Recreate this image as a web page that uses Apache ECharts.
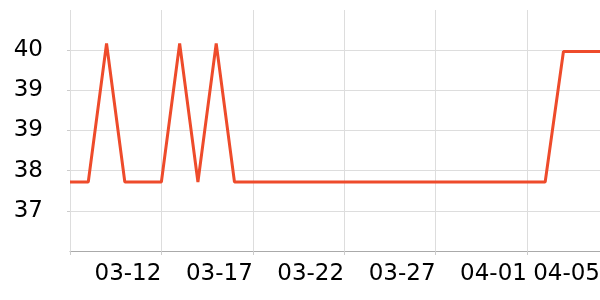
<!DOCTYPE html>
<html>
<head>
<meta charset="utf-8">
<script src="https://cdn.jsdelivr.net/npm/echarts@6/dist/echarts.min.js"></script>
<style>
html,body{margin:0;padding:0;background:#fff;}
#chart{width:600px;height:300px;}
</style>
</head>
<body>
<div id="chart"></div>
<script>
// Categories: daily dates
const categories = ['03-07','03-08','03-09','03-10','03-11','03-12','03-13','03-14','03-15','03-16',
  '03-17','03-18','03-19','03-20','03-21','03-22','03-23','03-24','03-25','03-26',
  '03-27','03-28','03-29','03-30','03-31','04-01','04-02','04-03','04-04','04-05'];
// Series values
const values = [37.83,37.83,39.9,37.83,37.83,37.83,39.9,37.83,39.9,37.83,
  37.83,37.83,37.83,37.83,37.83,37.83,37.83,37.83,37.83,37.83,
  37.83,37.83,37.83,37.83,37.83,37.83,37.83,39.78,39.78,39.78];
// Shown x labels
const shownLabels = ['03-12','03-17','03-22','03-27','04-01','04-05'];
const gridLabels = ['03-07','03-12','03-17','03-22','03-27','04-01'];
// Y axis range
const yMin = 36.8, yMax = 40.4, yInterval = 0.6;

const chart = echarts.init(document.getElementById('chart'), null, {renderer:'canvas'});
chart.setOption({
  animation: false,
  grid: {left: 70, right: 0, top: 10, bottom: 49, containLabel: false, outerBoundsMode: 'none'},
  xAxis: {
    type: 'category',
    data: categories,
    boundaryGap: false,
    axisLine: {show: true, lineStyle: {color: '#aaaaaa', width: 1}},
    axisTick: {show: true, length: 4, lineStyle: {color: '#cccccc'},
      interval: (i, v) => gridLabels.includes(v)},
    splitLine: {show: true, lineStyle: {color: '#dddddd', width: 1},
      interval: (i, v) => gridLabels.includes(v)},
    axisLabel: {
      interval: (i, v) => shownLabels.includes(v),
      align: 'right',
      margin: 12,
      fontFamily: 'DejaVu Sans',
      fontSize: 23,
      color: '#000'
    }
  },
  yAxis: {
    type: 'value',
    min: yMin, max: yMax, interval: yInterval,
    axisLine: {show: false},
    axisTick: {show: true, length: 3, lineStyle: {color: '#cccccc'}},
    splitLine: {show: true, showMaxLine: false, lineStyle: {color: '#dddddd', width: 1}},
    axisLabel: {
      showMinLabel: false, showMaxLabel: false,
      margin: 27,
      fontFamily: 'DejaVu Sans',
      fontSize: 23,
      color: '#000',
      formatter: v => String(Math.round(v))
    }
  },
  series: [{
    type: 'line',
    data: values,
    symbol: 'none',
    lineStyle: {color: '#EE4B2B', width: 3},
    itemStyle: {color: '#EE4B2B'}
  }]
});
</script>
</body>
</html>
